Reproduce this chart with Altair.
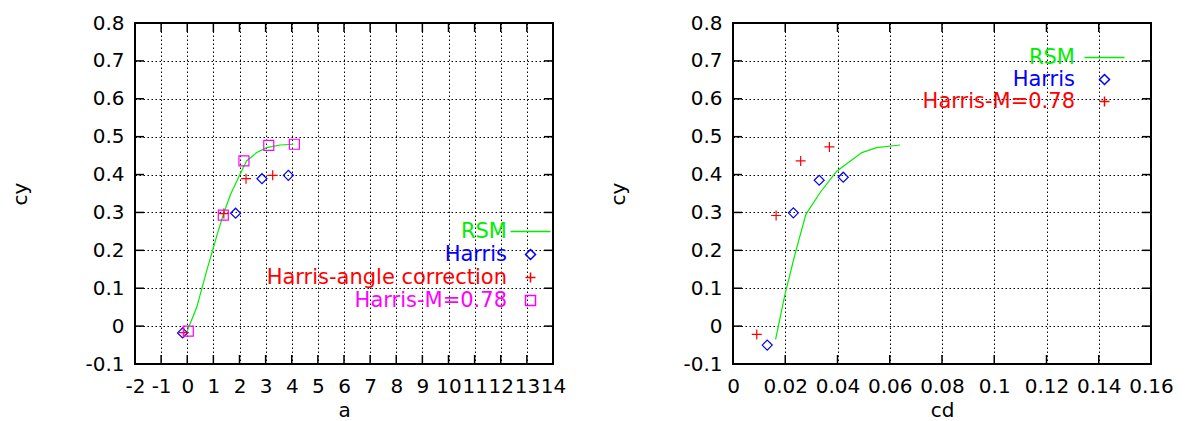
import altair as alt
import pandas as pd

# ---------------- data ----------------
# Left panel (cy vs a)
rsm_a = [0.0, 0.36, 0.74, 1.13, 1.38, 1.66, 2.02, 2.27, 2.66, 3.04, 3.55, 4.06]
rsm_a_cy = [-0.012, 0.049, 0.145, 0.238, 0.295, 0.348, 0.401, 0.436, 0.458, 0.471, 0.478, 0.480]
harris_a = [-0.18, 1.85, 2.86, 3.87]
harris_a_cy = [-0.018, 0.298, 0.389, 0.398]
corr_a = [-0.13, 1.40, 2.25, 3.27]
corr_a_cy = [-0.017, 0.297, 0.389, 0.398]
m078_a = [0.04, 1.38, 2.17, 3.12, 4.10]
m078_a_cy = [-0.013, 0.293, 0.436, 0.477, 0.480]

# Right panel (cy vs cd)
rsm_cd = [0.0163, 0.0199, 0.0237, 0.0279, 0.0333, 0.0397, 0.0493, 0.0550, 0.0639]
rsm_cd_cy = [-0.035, 0.084, 0.189, 0.295, 0.352, 0.409, 0.458, 0.471, 0.478]
harris_cd = [0.0131, 0.0231, 0.0330, 0.0422]
harris_cd_cy = [-0.050, 0.299, 0.385, 0.393]
m078_cd = [0.0091, 0.0165, 0.0259, 0.0369]
m078_cd_cy = [-0.022, 0.292, 0.436, 0.473]

left_x_ticks = [-2, -1, 0, 1, 2, 3, 4, 5, 6, 7, 8, 9, 10, 11, 12, 13, 14]
right_x_ticks = [0, 0.02, 0.04, 0.06, 0.08, 0.1, 0.12, 0.14, 0.16]
y_ticks = [-0.1, 0, 0.1, 0.2, 0.3, 0.4, 0.5, 0.6, 0.7, 0.8]

left_names = ["RSM", "Harris", "Harris-angle correction", "Harris-M=0.78"]
left_colors = ["#00ee00", "#0000ff", "#ff0000", "#ff00ff"]
left_shapes = ["M-4,0H4", "diamond", "M-1,0H1M0,-1V1", "square"]

right_names = ["RSM", "Harris", "Harris-M=0.78"]
right_colors = ["#00ee00", "#0000ff", "#ff0000"]
right_shapes = ["M-4,0H4", "diamond", "M-1,0H1M0,-1V1"]

W, H = 418, 341
FONT = "DejaVu Sans"


def color_expr(names, colors):
    expr = "'black'"
    for n, c in reversed(list(zip(names, colors))):
        expr = f"datum.label == '{n}' ? '{c}' : " + expr
    return expr


def panel(line_x, line_y, pts, names, colors, shapes, xdom, xticks, xtitle,
          leg_x, leg_y, lab_off, row_pad):
    line_df = pd.DataFrame({"x": line_x, "y": line_y, "series": names[0]})
    rows = []
    for name, xs, ys in pts:
        for a, b in zip(xs, ys):
            rows.append({"x": a, "y": b, "series": name})
    pts_df = pd.DataFrame(rows)

    xs = alt.Scale(domain=xdom, nice=False, zero=False)
    ys = alt.Scale(domain=[-0.1, 0.8], nice=False, zero=False)
    cs = alt.Scale(domain=names, range=colors)
    ss = alt.Scale(domain=names, range=shapes)

    legend = alt.Legend(
        title=None, orient="none", legendX=leg_x, legendY=leg_y,
        labelAlign="right", labelOffset={"expr": str(lab_off)}, labelFontSize=21,
        labelFont=FONT, labelColor={"expr": color_expr(names, colors)},
        symbolStrokeWidth=1.5, rowPadding=row_pad, padding=0, labelLimit=400,
    )

    xaxis = alt.Axis(values=xticks, title=xtitle, labelExpr="'' + datum.value",
                     tickSize=0, labelPadding=12, titlePadding=4, labelFlush=False)
    yaxis = alt.Axis(values=y_ticks, title="cy", labelExpr="'' + datum.value",
                     tickSize=0, labelPadding=11, titlePadding=54, labelFlush=False)

    line = alt.Chart(line_df).mark_line(strokeWidth=1.2).encode(
        x=alt.X("x:Q", scale=xs, axis=xaxis),
        y=alt.Y("y:Q", scale=ys, axis=yaxis),
        color=alt.Color("series:N", scale=cs, legend=legend),
    )
    points = alt.Chart(pts_df).mark_point(filled=False, size=100, strokeWidth=1.2, opacity=1).encode(
        x=alt.X("x:Q", scale=xs, axis=xaxis),
        y=alt.Y("y:Q", scale=ys, axis=yaxis),
        color=alt.Color("series:N", scale=cs, legend=legend),
        shape=alt.Shape("series:N", scale=ss, legend=legend),
    )

    xt = pd.DataFrame({"tx": xticks})
    yt = pd.DataFrame({"ty": y_ticks})
    tk = dict(color="black", strokeWidth=1.5)
    bottom = alt.Chart(xt).mark_rule(**tk).encode(
        x=alt.X("tx:Q", scale=xs, axis=xaxis), y=alt.value(H), y2=alt.value(H - 9))
    top = alt.Chart(xt).mark_rule(**tk).encode(
        x=alt.X("tx:Q", scale=xs, axis=xaxis), y=alt.value(0), y2=alt.value(9))
    left = alt.Chart(yt).mark_rule(**tk).encode(
        y=alt.Y("ty:Q", scale=ys, axis=yaxis), x=alt.value(0), x2=alt.value(9))
    right = alt.Chart(yt).mark_rule(**tk).encode(
        y=alt.Y("ty:Q", scale=ys, axis=yaxis), x=alt.value(W), x2=alt.value(W - 9))

    return alt.layer(line, points, bottom, top, left, right).properties(width=W, height=H)


left_panel = panel(
    rsm_a, rsm_a_cy,
    [("Harris", harris_a, harris_a_cy),
     ("Harris-angle correction", corr_a, corr_a_cy),
     ("Harris-M=0.78", m078_a, m078_a_cy)],
    left_names, left_colors, left_shapes, [-2, 14], left_x_ticks, "a",
    385, 198, -34, 1,
)
right_panel = panel(
    rsm_cd, rsm_cd_cy,
    [("Harris", harris_cd, harris_cd_cy),
     ("Harris-M=0.78", m078_cd, m078_cd_cy)],
    right_names, right_colors, right_shapes, [0, 0.16], right_x_ticks, "cd",
    361, 24, -40, 0,
)

chart = alt.hconcat(left_panel, right_panel, spacing=180, bounds="flush").resolve_scale(
    color="independent", shape="independent"
).resolve_legend(color="independent", shape="independent").properties(
    padding={"left": 1, "top": 4, "right": 5, "bottom": 5}
).configure(font=FONT).configure_view(
    stroke="black", strokeWidth=2
).configure_axis(
    labelFont=FONT, titleFont=FONT, labelFontSize=20, titleFontSize=20,
    labelColor="black", titleColor="black", titleFontWeight="normal",
    domain=False, grid=True, gridColor="#000000", gridDash=[1.5, 2.5],
    gridWidth=1, gridOpacity=1, labelOverlap=False,
)

chart.save("out.html", embed_options={"renderer": "svg", "actions": False})
